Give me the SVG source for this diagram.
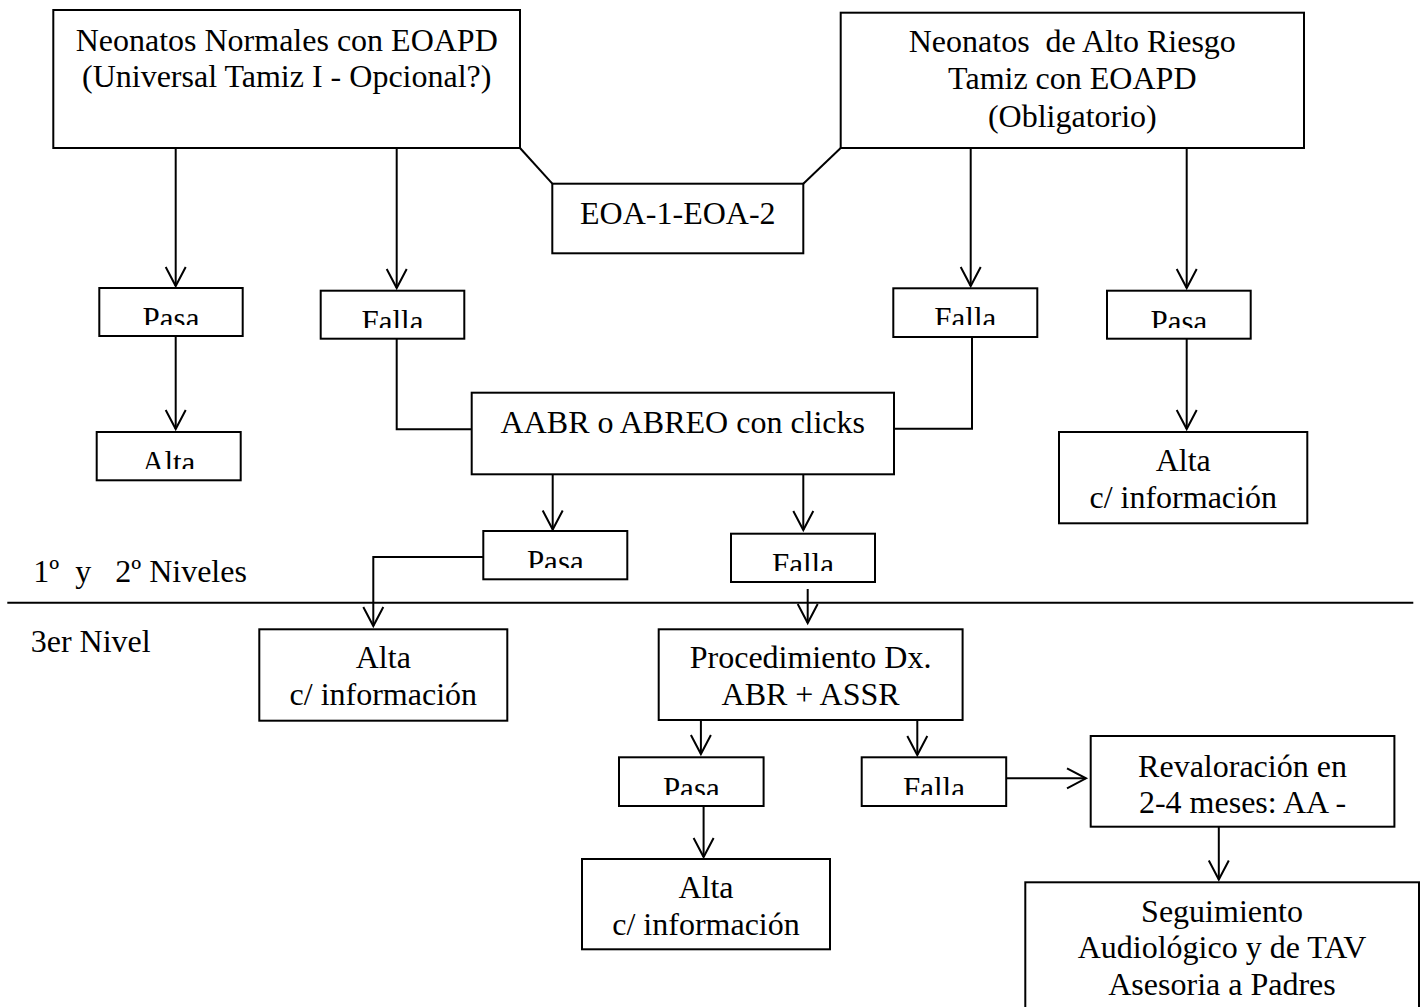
<svg xmlns="http://www.w3.org/2000/svg" width="1425" height="1007" viewBox="0 0 1425 1007">
<style>
.box{fill:#fff;stroke:#000;stroke-width:2}
.t{font-family:"Liberation Serif","Times New Roman",serif;font-size:32px;fill:#000;text-anchor:middle}
.s{font-size:31px}
.l{text-anchor:start}
.c{fill:none;stroke:#000;stroke-width:2}
.a{marker-end:url(#arr)}
</style>
<defs>
<marker id="arr" markerUnits="userSpaceOnUse" viewBox="-21 -12 24 24" markerWidth="24" markerHeight="24" refX="0" refY="0" orient="auto">
<path d="M-19,-10 L0,0 L-19,10" fill="none" stroke="#000" stroke-width="2"/>
</marker>
<clipPath id="cp1" clipPathUnits="userSpaceOnUse"><rect x="99" y="288" width="144" height="37"/></clipPath>
<clipPath id="cp2" clipPathUnits="userSpaceOnUse"><rect x="321" y="291" width="144" height="37"/></clipPath>
<clipPath id="cp3" clipPathUnits="userSpaceOnUse"><rect x="97" y="432" width="144" height="37"/></clipPath>
<clipPath id="cp4" clipPathUnits="userSpaceOnUse"><rect x="893" y="288" width="144" height="37"/></clipPath>
<clipPath id="cp5" clipPathUnits="userSpaceOnUse"><rect x="1107" y="291" width="144" height="37"/></clipPath>
<clipPath id="cp6" clipPathUnits="userSpaceOnUse"><rect x="483" y="531" width="144" height="37"/></clipPath>
<clipPath id="cp7" clipPathUnits="userSpaceOnUse"><rect x="731" y="534" width="144" height="37"/></clipPath>
<clipPath id="cp8" clipPathUnits="userSpaceOnUse"><rect x="619" y="757" width="145" height="38"/></clipPath>
<clipPath id="cp9" clipPathUnits="userSpaceOnUse"><rect x="862" y="757" width="144" height="38"/></clipPath>
</defs>
<rect width="1425" height="1007" fill="#fff"/>

<g id="connectors">
<line class="c" x1="520" y1="148" x2="552.3" y2="183.7"/>
<line class="c" x1="840.7" y1="148" x2="803.3" y2="183.7"/>
<line class="c a" x1="175.7" y1="148" x2="175.7" y2="286"/>
<line class="c a" x1="396.7" y1="149" x2="396.7" y2="288"/>
<line class="c a" x1="970.7" y1="148" x2="970.7" y2="286"/>
<line class="c a" x1="1186.7" y1="149" x2="1186.7" y2="288"/>
<line class="c a" x1="175.7" y1="336" x2="175.7" y2="429"/>
<polyline class="c" points="396.7,338.7 396.7,429.3 471.7,429.3"/>
<polyline class="c" points="972,337 972,428.7 894,428.7"/>
<line class="c a" x1="1186.7" y1="338.7" x2="1186.7" y2="429"/>
<line class="c a" x1="552.7" y1="474.3" x2="552.7" y2="529.5"/>
<line class="c a" x1="803.3" y1="474.3" x2="803.3" y2="530"/>
<polyline class="c a" points="483.3,557 373.3,557 373.3,626"/>
<line class="c a" x1="807.7" y1="589" x2="807.7" y2="623"/>
<line class="c a" x1="700.9" y1="720" x2="700.9" y2="754"/>
<line class="c a" x1="917.3" y1="720" x2="917.3" y2="755"/>
<line class="c a" x1="1006.2" y1="778.3" x2="1086" y2="778.3"/>
<line class="c a" x1="703.6" y1="806" x2="703.6" y2="857"/>
<line class="c a" x1="1218.8" y1="826.7" x2="1218.8" y2="879.5"/>
<line class="c" x1="7.3" y1="602.7" x2="1413.3" y2="602.7"/>
</g>

<g id="n-normales">
<rect class="box" x="53.3" y="10" width="466.7" height="138"/>
<text class="t" x="286.7" y="50.7">Neonatos Normales con EOAPD</text>
<text class="t" x="286.7" y="87.3">(Universal Tamiz I - Opcional?)</text>
</g>
<g id="n-altoriesgo">
<rect class="box" x="840.7" y="12.7" width="463.3" height="135.3"/>
<text class="t" x="1072.3" y="51.7" xml:space="preserve">Neonatos  de Alto Riesgo</text>
<text class="t" x="1072.3" y="89">Tamiz con EOAPD</text>
<text class="t" x="1072.3" y="126.7">(Obligatorio)</text>
</g>
<g id="n-eoa">
<rect class="box" x="552.3" y="183.7" width="251" height="69.6"/>
<text class="t" x="677.8" y="224">EOA-1-EOA-2</text>
</g>
<g id="n-pasa1">
<rect class="box" x="99.3" y="288" width="143.4" height="48"/>
<text class="t s" x="171" y="329" clip-path="url(#cp1)">Pasa</text>
</g>
<g id="n-falla1">
<rect class="box" x="320.7" y="290.7" width="143.6" height="48"/>
<text class="t s" x="392.5" y="331.7" clip-path="url(#cp2)">Falla</text>
</g>
<g id="n-alta1">
<rect class="box" x="96.7" y="432" width="144" height="48.3"/>
<text class="t s" x="168.7" y="473" clip-path="url(#cp3)">Alta</text>
</g>
<g id="n-falla2">
<rect class="box" x="893.3" y="288.3" width="144" height="48.7"/>
<text class="t s" x="965.3" y="329.3" clip-path="url(#cp4)">Falla</text>
</g>
<g id="n-pasa2">
<rect class="box" x="1107" y="290.7" width="143.7" height="48"/>
<text class="t s" x="1178.9" y="331.7" clip-path="url(#cp5)">Pasa</text>
</g>
<g id="n-alta2">
<rect class="box" x="1059" y="432" width="248.3" height="91.3"/>
<text class="t" x="1183.2" y="471">Alta</text>
<text class="t" x="1183.2" y="507.7">c/ información</text>
</g>
<g id="n-aabr">
<rect class="box" x="471.7" y="392.7" width="422.3" height="81.6"/>
<text class="t" x="682.8" y="432.7">AABR o ABREO con clicks</text>
</g>
<g id="n-pasa3">
<rect class="box" x="483.3" y="531" width="144" height="48.3"/>
<text class="t s" x="555.3" y="572" clip-path="url(#cp6)">Pasa</text>
</g>
<g id="n-falla3">
<rect class="box" x="731" y="533.7" width="144" height="48.3"/>
<text class="t s" x="803" y="574.7" clip-path="url(#cp7)">Falla</text>
</g>
<g id="lbl-niveles">
<text class="t l" x="33.3" y="582" xml:space="preserve">1º  y   2º Niveles</text>
<text class="t l" x="30.7" y="652">3er Nivel</text>
</g>
<g id="n-alta3">
<rect class="box" x="259.3" y="629.3" width="248" height="91.4"/>
<text class="t" x="383.3" y="668">Alta</text>
<text class="t" x="383.3" y="705">c/ información</text>
</g>
<g id="n-proc">
<rect class="box" x="658.7" y="629.3" width="303.9" height="90.7"/>
<text class="t" x="810.6" y="668">Procedimiento Dx.</text>
<text class="t" x="810.6" y="705">ABR + ASSR</text>
</g>
<g id="n-pasa4">
<rect class="box" x="619" y="757.3" width="144.6" height="48.7"/>
<text class="t s" x="691.3" y="799" clip-path="url(#cp8)">Pasa</text>
</g>
<g id="n-falla4">
<rect class="box" x="861.7" y="757.3" width="144.5" height="48.7"/>
<text class="t s" x="934" y="799" clip-path="url(#cp9)">Falla</text>
</g>
<g id="n-reval">
<rect class="box" x="1090.7" y="736" width="303.7" height="90.7"/>
<text class="t" x="1242.5" y="776.7">Revaloración en</text>
<text class="t" x="1242.5" y="812.7">2-4 meses: AA -</text>
</g>
<g id="n-alta4">
<rect class="box" x="582" y="859" width="248" height="90.3"/>
<text class="t" x="706" y="898">Alta</text>
<text class="t" x="706" y="935">c/ información</text>
</g>
<g id="n-seguimiento">
<rect class="box" x="1025.3" y="882.3" width="393.7" height="150"/>
<text class="t" x="1222" y="921.7">Seguimiento</text>
<text class="t" x="1222" y="958.3">Audiológico y de TAV</text>
<text class="t" x="1222" y="995">Asesoria a Padres</text>
</g>
</svg>
